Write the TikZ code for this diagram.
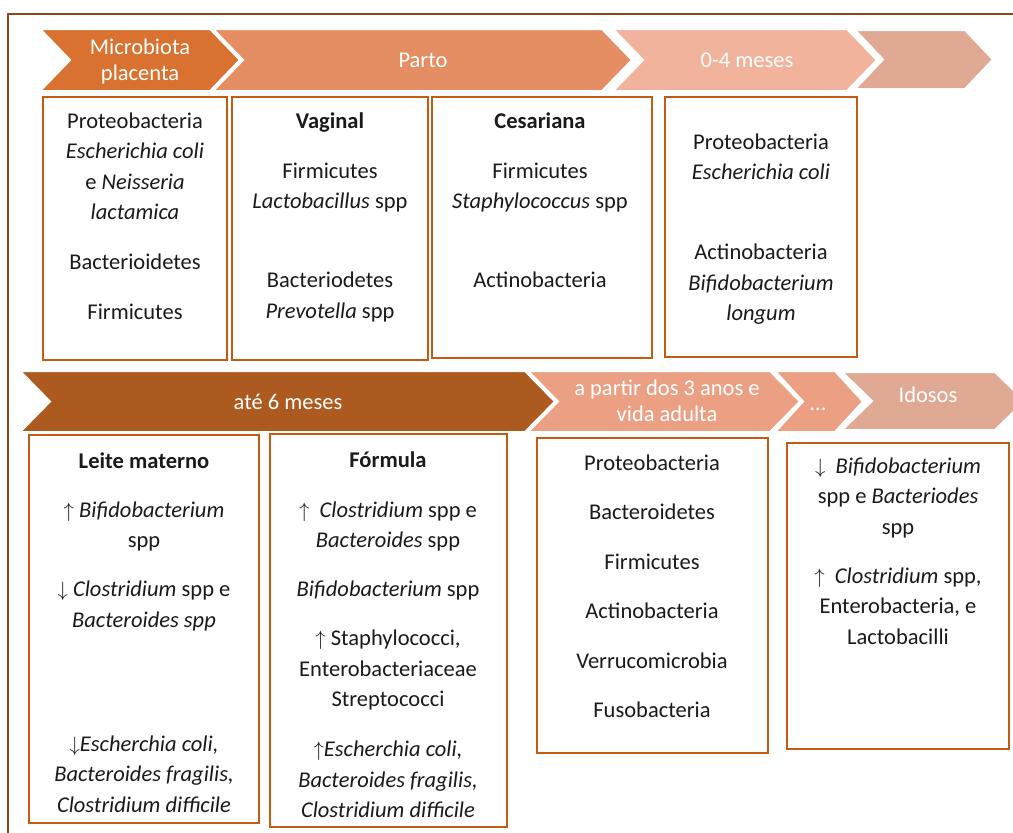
\documentclass[tikz,border=0pt]{standalone}
\usepackage{fontspec}
\setmainfont{Carlito}
\definecolor{framec}{HTML}{94441A}
\definecolor{boxc}{HTML}{C55A11}
\definecolor{txtc}{HTML}{1A1A1A}
\definecolor{cA}{HTML}{D97130}
\definecolor{cB}{HTML}{E68E63}
\definecolor{cC}{HTML}{F2B39C}
\definecolor{cD}{HTML}{DFA994}
\definecolor{cE}{HTML}{AD5A20}
\definecolor{cF}{HTML}{EBA083}
\newcommand\mychev[6]{% xl, xr, ytop, ybot, depth, colour
  \fill[fill=#6, chevpath] (#1,#3) -- (#2,#3) -- ({#2+#5},{(#3+#4)/2}) -- (#2,#4) -- (#1,#4) -- ({#1+#5},{(#3+#4)/2}) -- cycle;}
\begin{document}
\begin{tikzpicture}[x=1pt,y=-1pt,
  chevpath/.style={draw=white, line width=2pt, line join=miter},
  box/.style={draw=boxc, line width=2pt, fill=white, inner sep=0pt, outer sep=0pt},
  txt/.style={anchor=base, align=center, inner sep=0pt, text=txtc, font=\fontsize{22.5}{30.5}\selectfont},
  ctxt/.style={anchor=base, align=center, inner sep=0pt, text=white, font=\fontsize{22.5}{26}\selectfont},
  framed/.style={draw=framec, line width=2pt}]
\useasboundingbox (0,0) rectangle (1013,833);
\clip (0,0) rectangle (1013,833);
% outer frame
\coordinate (fbl) at (8,845);
\coordinate (ftl) at (8,14);
\coordinate (ftr) at (1025,14);
\draw[framed] (fbl) -- (ftl) -- (ftr);
% top row chevrons
\mychev{40}{210}{29}{91}{30}{cA}
\mychev{213}{602}{29}{91}{30}{cB}
\mychev{613}{847}{29}{91}{30}{cC}
\mychev{855}{965}{30}{89}{28}{cD}
\node[ctxt] (lA) at (140,80) {Microbiota\\placenta};
\node[ctxt] (lB) at (423,67) {Parto};
\node[ctxt] (lC) at (747,67) {0-4 meses};
% second row chevrons
\mychev{20}{525}{371}{432}{30}{cE}
\mychev{528}{770}{371}{432}{30}{cF}
\mychev{775}{835}{371}{432}{28}{cF}
\mychev{842}{995}{372}{430}{30}{cD}
\node[ctxt] (lE) at (288,409) {até 6 meses};
\node[ctxt] (lF) at (667,421) {a partir dos 3 anos e\\vida adulta};
\node[ctxt] (lG) at (818,410) {...};
\node[ctxt] (lH) at (928,402) {Idosos};
% boxes top row
\node[box, minimum width=184pt, minimum height=263pt] (b1) at (135,228.5) {};
\node[box, minimum width=196pt, minimum height=263pt] (b2) at (330,228.5) {};
\node[box, minimum width=220pt, minimum height=261pt] (b3) at (542,227.5) {};
\node[box, minimum width=192pt, minimum height=260pt] (b4) at (761,227) {};
% boxes bottom row
\node[box, minimum width=230pt, minimum height=388pt] (b5) at (144,629) {};
\node[box, minimum width=237pt, minimum height=393pt] (b6) at (388.5,630.5) {};
\node[box, minimum width=231pt, minimum height=315pt] (b7) at (652.5,595.5) {};
\node[box, minimum width=222pt, minimum height=306pt] (b8) at (898,596) {};
% texts (anchored at the baseline of their last line)
\node[txt] (t1) at (135,319.5) {Proteobacteria\\ \textit{Escherichia coli}\\ e \textit{Neisseria}\\ \textit{lactamica}\\[19.5pt] Bacterioidetes\\[19.5pt] Firmicutes};
\node[txt] (t2) at (330,318) {\textbf{Vaginal}\\[19.5pt] Firmicutes\\ \textit{Lactobacillus} spp\\[48.5pt] Bacteriodetes\\ \textit{Prevotella} spp};
\node[txt] (t3) at (540,287.5) {\textbf{Cesariana}\\[19.5pt] Firmicutes\\ \textit{Staphylococcus} spp\\[48.5pt] Actinobacteria};
\node[txt] (t4) at (761,320.5) {Proteobacteria\\ \textit{Escherichia coli}\\[49.5pt] Actinobacteria\\ \textit{Bifidobacterium}\\ \textit{longum}};
\node[txt] (t5) at (144,812) {\textbf{Leite materno}\\[18.5pt] $\uparrow$ \textit{Bifidobacterium}\\ spp\\[18.5pt] $\downarrow$ \textit{Clostridium} spp e\\ \textit{Bacteroides spp}\\[93.5pt] $\downarrow$\textit{Escherchia coli,}\\ \textit{Bacteroides fragilis,}\\ \textit{Clostridium difficile}};
\node[txt] (t6) at (388,817.5) {\textbf{Fórmula}\\[19.5pt] $\uparrow$\ \ \textit{Clostridium} spp e\\ \textit{Bacteroides} spp\\[18.5pt] \textit{Bifidobacterium} spp\\[18.5pt] $\uparrow$ Staphylococci,\\ Enterobacteriaceae\\ Streptococci\\[19.5pt] $\uparrow$\textit{Escherchia coli,}\\ \textit{Bacteroides fragilis,}\\ \textit{Clostridium difficile}};
\node[txt] (t7) at (652,717.5) {Proteobacteria\\[19pt] Bacteroidetes\\[19pt] Firmicutes\\[19pt] Actinobacteria\\[19pt] Verrucomicrobia\\[19pt] Fusobacteria};
\node[txt] (t8) at (898,644) {$\downarrow$\ \ \textit{Bifidobacterium}\\ spp e \textit{Bacteriodes}\\ spp\\[18.5pt] $\uparrow$\ \ \textit{Clostridium} spp,\\ Enterobacteria, e\\ Lactobacilli};
\end{tikzpicture}
\end{document}
